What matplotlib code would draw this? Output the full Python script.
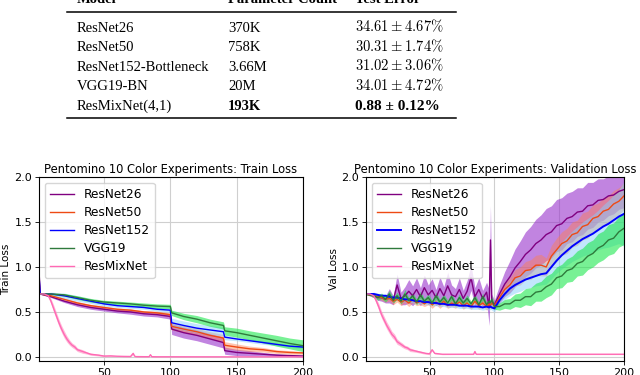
import numpy as np
import matplotlib
matplotlib.use("Agg")
import matplotlib.pyplot as plt
from matplotlib.lines import Line2D

plt.rcParams['mathtext.fontset'] = 'cm'

# ---- table ----
table_header = ["Model", "Parameter Count", "Test Error"]
table_models = ["ResNet26", "ResNet50", "ResNet152-Bottleneck", "VGG19-BN", "ResMixNet(4,1)"]
table_params = ["370K", "758K", "3.66M", "20M", "193K"]
table_err_mean = ["34.61", "30.31", "31.02", "34.01", "0.88"]
table_err_std = ["4.67", "1.74", "3.06", "4.72", "0.12"]

# ---- train loss ----
train_epochs = [1, 2, 10, 20, 30, 40, 50, 60, 70, 80, 90, 100, 101, 110, 120, 130, 140, 141,
                150, 160, 170, 180, 190, 200]
train_r26 = [0.95, 0.70, 0.67, 0.62, 0.58, 0.55, 0.53, 0.51, 0.50, 0.48, 0.47, 0.45, 0.31, 0.27,
             0.24, 0.20, 0.16, 0.07, 0.05, 0.04, 0.03, 0.02, 0.015, 0.01]
train_r26_sd = [0.0, 0.005, 0.01, 0.015, 0.02, 0.02, 0.02, 0.02, 0.025, 0.025, 0.025, 0.03, 0.06,
                0.06, 0.06, 0.06, 0.06, 0.04, 0.035, 0.03, 0.02, 0.015, 0.01, 0.01]
train_r50 = [0.85, 0.70, 0.68, 0.64, 0.60, 0.57, 0.55, 0.53, 0.52, 0.50, 0.49, 0.47, 0.34, 0.31,
             0.28, 0.24, 0.21, 0.13, 0.11, 0.09, 0.08, 0.06, 0.05, 0.045]
train_r50_sd = [0.0, 0.005, 0.01, 0.012, 0.015, 0.015, 0.015, 0.015, 0.015, 0.015, 0.02, 0.02, 0.04,
                0.04, 0.04, 0.04, 0.04, 0.04, 0.035, 0.03, 0.025, 0.02, 0.02, 0.015]
train_r152 = [0.90, 0.70, 0.70, 0.68, 0.65, 0.62, 0.59, 0.57, 0.56, 0.55, 0.53, 0.52, 0.38, 0.35,
              0.32, 0.30, 0.28, 0.22, 0.20, 0.18, 0.16, 0.14, 0.12, 0.11]
train_r152_sd = [0.0, 0.005, 0.02, 0.03, 0.03, 0.025, 0.025, 0.02, 0.02, 0.02, 0.02, 0.02, 0.05,
                 0.05, 0.05, 0.05, 0.05, 0.03, 0.02, 0.02, 0.02, 0.015, 0.015, 0.015]
train_vgg = [0.72, 0.70, 0.70, 0.69, 0.66, 0.63, 0.61, 0.60, 0.59, 0.575, 0.565, 0.56, 0.49, 0.45,
             0.42, 0.38, 0.35, 0.29, 0.27, 0.24, 0.21, 0.18, 0.15, 0.125]
train_vgg_sd = [0.0, 0.005, 0.01, 0.015, 0.02, 0.02, 0.02, 0.02, 0.02, 0.025, 0.025, 0.025, 0.03,
                0.035, 0.04, 0.04, 0.04, 0.045, 0.05, 0.05, 0.055, 0.06, 0.06, 0.065]
train_mix_epochs = [1, 5, 8, 10, 12, 14, 16, 18, 20, 22, 24, 26, 28, 30, 32, 34, 36, 38, 40, 43, 46,
                    50, 55, 60, 65, 70, 72, 73, 74, 80, 84, 85, 86, 90, 100, 150, 200]
train_mix = [0.70, 0.70, 0.68, 0.62, 0.54, 0.46, 0.38, 0.31, 0.25, 0.20, 0.16, 0.13, 0.11, 0.08,
             0.07, 0.06, 0.05, 0.04, 0.03, 0.025, 0.02, 0.01, 0.012, 0.008, 0.006, 0.005, 0.04,
             0.01, 0.004, 0.003, 0.003, 0.025, 0.003, 0.002, 0.002, 0.001, 0.001]
train_mix_sd = [0.0, 0.005, 0.015, 0.03, 0.04, 0.04, 0.04, 0.04, 0.04, 0.035, 0.03, 0.025, 0.025,
                0.02, 0.02, 0.02, 0.015, 0.012, 0.012, 0.01, 0.01, 0.008, 0.008, 0.006, 0.005,
                0.004, 0.012, 0.005, 0.004, 0.003, 0.003, 0.006, 0.003, 0.002, 0.002, 0.001, 0.001]

# ---- validation loss ----
val_epochs = [1, 4, 7, 10, 13, 16, 19, 22, 25, 28, 31, 34, 37, 40, 43, 46, 49, 52, 55, 58, 61, 64,
              67, 70, 73, 76, 79, 82, 85, 88, 91, 94, 96, 97, 98, 100,
              104, 108, 112, 116, 120, 124, 128, 132, 136, 140, 144, 148, 152, 156, 160, 164, 168,
              172, 176, 180, 184, 188, 192, 196, 200]
val_r26 = [0.70, 0.69, 0.68, 0.66, 0.66, 0.64, 0.68, 0.63, 0.80, 0.65, 0.68, 0.73, 0.68, 0.75, 0.67,
           0.77, 0.69, 0.74, 0.66, 0.76, 0.68, 0.79, 0.69, 0.67, 0.75, 0.65, 0.73, 0.88, 0.67, 0.75,
           0.65, 0.72, 0.55, 1.30, 0.62, 0.58,
           0.70, 0.81, 0.89, 0.99, 1.06, 1.14, 1.19, 1.26, 1.30, 1.36, 1.39, 1.46, 1.48, 1.54, 1.56,
           1.61, 1.62, 1.68, 1.69, 1.74, 1.75, 1.79, 1.80, 1.84, 1.86]
val_r26_sd = [0.01, 0.01, 0.02, 0.03, 0.04, 0.04, 0.08, 0.05, 0.12, 0.07, 0.10, 0.13, 0.11, 0.13,
              0.10, 0.14, 0.11, 0.13, 0.09, 0.13, 0.10, 0.15, 0.11, 0.09, 0.13, 0.09, 0.12, 0.14,
              0.10, 0.13, 0.09, 0.11, 0.20, 0.38, 0.08, 0.05,
              0.10, 0.14, 0.18, 0.21, 0.23, 0.25, 0.26, 0.27, 0.28, 0.29, 0.29, 0.29, 0.29, 0.28,
              0.28, 0.27, 0.26, 0.26, 0.25, 0.24, 0.23, 0.22, 0.21, 0.20, 0.20]
val_r50 = [0.70, 0.69, 0.68, 0.67, 0.66, 0.64, 0.65, 0.62, 0.64, 0.61, 0.63, 0.60, 0.64, 0.60, 0.62,
           0.59, 0.62, 0.58, 0.61, 0.58, 0.62, 0.57, 0.60, 0.58, 0.61, 0.57, 0.60, 0.56, 0.62, 0.57,
           0.60, 0.56, 0.59, 0.57, 0.60, 0.57,
           0.66, 0.75, 0.80, 0.88, 0.90, 0.96, 0.97, 1.02, 1.02, 1.00, 1.12, 1.19, 1.26, 1.29, 1.36,
           1.38, 1.45, 1.47, 1.54, 1.56, 1.62, 1.64, 1.70, 1.73, 1.79]
val_r50_sd = [0.01, 0.01, 0.02, 0.02, 0.03, 0.03, 0.03, 0.04, 0.03, 0.04, 0.03, 0.04, 0.04, 0.03,
              0.04, 0.03, 0.04, 0.04, 0.03, 0.04, 0.04, 0.03, 0.04, 0.04, 0.03, 0.04, 0.04, 0.03,
              0.05, 0.04, 0.04, 0.04, 0.04, 0.04, 0.05, 0.03,
              0.05, 0.07, 0.08, 0.09, 0.10, 0.10, 0.11, 0.11, 0.12, 0.10, 0.12, 0.13, 0.13, 0.14,
              0.14, 0.14, 0.15, 0.15, 0.15, 0.15, 0.15, 0.15, 0.15, 0.15, 0.15]
val_r152 = [0.70, 0.70, 0.70, 0.69, 0.68, 0.68, 0.67, 0.66, 0.66, 0.65, 0.64, 0.64, 0.63, 0.62, 0.62,
            0.61, 0.61, 0.60, 0.60, 0.59, 0.59, 0.58, 0.58, 0.58, 0.57, 0.57, 0.57, 0.56, 0.56, 0.56,
            0.55, 0.56, 0.55, 0.56, 0.55, 0.54,
            0.63, 0.70, 0.76, 0.80, 0.83, 0.86, 0.88, 0.90, 0.92, 0.93, 1.00, 1.07, 1.13, 1.18, 1.23,
            1.27, 1.31, 1.34, 1.37, 1.41, 1.45, 1.48, 1.52, 1.56, 1.59]
val_r152_sd = [0.01, 0.01, 0.02, 0.02, 0.02, 0.02, 0.03, 0.03, 0.03, 0.03, 0.03, 0.03, 0.03, 0.03,
               0.03, 0.03, 0.03, 0.03, 0.03, 0.03, 0.03, 0.03, 0.03, 0.03, 0.03, 0.03, 0.03, 0.03,
               0.03, 0.03, 0.03, 0.03, 0.03, 0.03, 0.03, 0.04,
               0.04, 0.06, 0.08, 0.09, 0.10, 0.10, 0.11, 0.11, 0.12, 0.12, 0.13, 0.14, 0.15, 0.16,
               0.17, 0.18, 0.19, 0.20, 0.21, 0.22, 0.24, 0.26, 0.28, 0.30, 0.36]
val_vgg = [0.70, 0.69, 0.68, 0.66, 0.68, 0.64, 0.70, 0.63, 0.68, 0.62, 0.70, 0.63, 0.68, 0.61, 0.69,
           0.62, 0.66, 0.60, 0.68, 0.61, 0.66, 0.60, 0.67, 0.59, 0.66, 0.60, 0.65, 0.59, 0.66, 0.58,
           0.67, 0.58, 0.62, 0.60, 0.64, 0.56,
           0.56, 0.59, 0.59, 0.63, 0.63, 0.67, 0.67, 0.72, 0.73, 0.78, 0.81, 0.88, 0.90, 0.96, 0.98,
           1.04, 1.06, 1.12, 1.15, 1.21, 1.24, 1.30, 1.32, 1.39, 1.43]
val_vgg_sd = [0.01, 0.01, 0.02, 0.03, 0.03, 0.03, 0.04, 0.03, 0.04, 0.03, 0.05, 0.03, 0.04, 0.03,
              0.04, 0.03, 0.04, 0.03, 0.04, 0.03, 0.04, 0.03, 0.04, 0.03, 0.04, 0.03, 0.04, 0.03,
              0.04, 0.03, 0.04, 0.03, 0.03, 0.03, 0.04, 0.03,
              0.04, 0.05, 0.06, 0.07, 0.08, 0.09, 0.10, 0.10, 0.11, 0.12, 0.12, 0.12, 0.13, 0.13,
              0.14, 0.14, 0.15, 0.15, 0.15, 0.16, 0.16, 0.17, 0.17, 0.17, 0.18]
val_mix_epochs = [1, 4, 7, 9, 11, 13, 15, 17, 19, 21, 23, 25, 27, 29, 31, 33, 35, 38, 41, 44, 47, 50,
                  52, 54, 57, 60, 70, 80, 84, 85, 86, 90, 100, 150, 200]
val_mix = [0.70, 0.70, 0.68, 0.62, 0.55, 0.47, 0.41, 0.35, 0.30, 0.25, 0.22, 0.17, 0.15, 0.13, 0.11,
           0.10, 0.08, 0.07, 0.06, 0.05, 0.04, 0.035, 0.08, 0.04, 0.035, 0.03, 0.03, 0.03, 0.03,
           0.06, 0.03, 0.03, 0.03, 0.03, 0.03]
val_mix_sd = [0.0, 0.01, 0.02, 0.03, 0.04, 0.04, 0.04, 0.04, 0.04, 0.035, 0.035, 0.03, 0.025, 0.025,
              0.02, 0.02, 0.02, 0.015, 0.012, 0.012, 0.01, 0.01, 0.012, 0.008, 0.006, 0.005, 0.004,
              0.004, 0.004, 0.01, 0.004, 0.004, 0.004, 0.004, 0.004]

labels = ["ResNet26", "ResNet50", "ResNet152", "VGG19", "ResMixNet"]
line_colors = ["#800080", "#ee4a14", "#0000ff", "#2f7a3c", "#ff69b4"]
band_colors = ["#9932cc", "#ff7f50", "#87cefa", "#1ee84e", "#ff8fc0"]
band_alpha = [0.6, 0.45, 0.5, 0.6, 0.6]


def draw_panel(ax, series, title, ylabel, lws):
    for i, (x, m, sd) in enumerate(series):
        x = np.array(x)
        m = np.array(m)
        sd = np.array(sd)
        ax.plot(x, m, color=line_colors[i], lw=lws[i], label=labels[i])
        ax.fill_between(x, m - sd, m + sd, color=band_colors[i], alpha=band_alpha[i], lw=0)
    ax.set_xlim(1, 200)
    ax.set_ylim(-0.045, 2.0)
    ax.set_xticks([50, 100, 150, 200])
    ax.set_yticks([0.0, 0.5, 1.0, 1.5, 2.0])
    ax.grid(True, color="#cfcfcf", lw=0.8)
    ax.set_axisbelow(True)
    ax.tick_params(labelsize=8, length=3, width=0.6, pad=2)
    ax.set_title(title, fontsize=8.3, pad=3)
    ax.set_ylabel(ylabel, fontsize=7.5, labelpad=2)
    for s in ax.spines.values():
        s.set_linewidth(0.8)
    ax.legend(loc="upper left", fontsize=8.7, framealpha=0.8, labelspacing=0.42,
              borderpad=0.4, handletextpad=0.8)


fig = plt.figure(figsize=(6.4, 3.75), dpi=100)

# table drawn with text + rules
ty = lambda px: 1 - px / 375.0
tx = lambda px: px / 640.0
col_x = [76.5, 228, 355]
for j, h in enumerate(table_header):
    fig.text(tx(col_x[j]), ty(3), h, fontsize=10.5, family="Liberation Serif",
             weight="bold", va="baseline", ha="left")
fig.add_artist(Line2D([tx(67), tx(456)], [ty(12), ty(12)], color="black", lw=1.1))
fig.add_artist(Line2D([tx(67), tx(456)], [ty(118), ty(118)], color="black", lw=1.1))
for i in range(len(table_models)):
    yb = ty(31.5 + 19.6 * i)
    last = i == len(table_models) - 1
    fig.text(tx(col_x[0]), yb, table_models[i], fontsize=10.5, family="Liberation Serif",
             va="baseline")
    fig.text(tx(col_x[1]), yb, table_params[i], fontsize=10.5, family="Liberation Serif",
             weight="bold" if last else "normal", va="baseline")
    if last:
        fig.text(tx(col_x[2]), yb, "%s \u00b1 %s%%" % (table_err_mean[i], table_err_std[i]),
                 fontsize=11, family="Liberation Serif", weight="bold", va="baseline")
    else:
        s = r"$%s \pm %s\%%$" % (table_err_mean[i], table_err_std[i])
        fig.text(tx(col_x[2]), yb, s, fontsize=10.5, va="baseline")

ax1 = fig.add_axes([39 / 640, 1 - 361 / 375, 264 / 640, 184 / 375])
ax2 = fig.add_axes([366 / 640, 1 - 361 / 375, 258 / 640, 184 / 375])

draw_panel(ax1,
           [(train_epochs, train_r26, train_r26_sd),
            (train_epochs, train_r50, train_r50_sd),
            (train_epochs, train_r152, train_r152_sd),
            (train_epochs, train_vgg, train_vgg_sd),
            (train_mix_epochs, train_mix, train_mix_sd)],
           "Pentomino 10 Color Experiments: Train Loss", "Train Loss",
           [1.0, 1.0, 1.0, 1.0, 1.0])
draw_panel(ax2,
           [(val_epochs, val_r26, val_r26_sd),
            (val_epochs, val_r50, val_r50_sd),
            (val_epochs, val_r152, val_r152_sd),
            (val_epochs, val_vgg, val_vgg_sd),
            (val_mix_epochs, val_mix, val_mix_sd)],
           "Pentomino 10 Color Experiments: Validation Loss", "Val Loss",
           [1.0, 1.0, 1.4, 1.0, 1.0])

fig.savefig("out.png", dpi=100)
